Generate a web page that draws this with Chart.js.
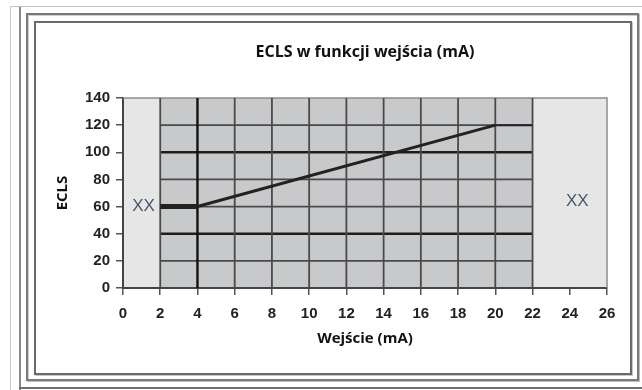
<!DOCTYPE html>
<html>
<head>
<meta charset="utf-8">
<script src="https://cdn.jsdelivr.net/npm/chart.js@4.4.1/dist/chart.umd.min.js"></script>
<style>
  html, body { margin: 0; padding: 0; background: #fff; }
  #wrap { position: relative; width: 642px; height: 390px; overflow: hidden; background: #fff; }
  .ln { position: absolute; }
  canvas { position: absolute; left: 0; top: 0; }
</style>
</head>
<body>
<div id="wrap">
  <!-- outer frame lines -->
  <div class="ln" style="left:10px; top:6px; width:640px; height:1px; background:#c4c4c4"></div>
  <div class="ln" style="left:10px; top:6px; width:1px; height:390px; background:#c4c4c4"></div>
  <div class="ln" style="left:19px; top:7px; width:2px; height:390px; background:#8a8a8a"></div>
  <div class="ln" style="left:19px; top:387px; width:630px; height:2px; background:#6e6e6e"></div>
  <!-- middle frame -->
  <div class="ln" style="left:26px; top:13px; width:609px; height:364px; border:2px solid #7a7a7a; box-shadow: inset 1px 1px 0 #d0d0d0, 1px 1px 0 #bdbdbd"></div>
  <!-- inner frame -->
  <div class="ln" style="left:34px; top:21px; width:594px; height:350px; border:2px solid #6a6a6a; box-shadow: 1px 1px 0 #c8c8c8"></div>
  <canvas id="c" width="642" height="390"></canvas>
</div>
<script>
// ---- data ----
const xTickValues = [0, 2, 4, 6, 8, 10, 12, 14, 16, 18, 20, 22, 24, 26];
const yTickValues = [0, 20, 40, 60, 80, 100, 120, 140];
const curveX = [2, 4, 20, 22];
const curveY = [60, 60, 120, 120];
const activeRange = [2, 22];
const markerTexts = ['XX', 'XX'];
const markerX = [1.1, 24.4];
const markerY = [60, 64];
const chartTitle = 'ECLS w funkcji wejścia (mA)';
const xTitle = 'Wejście (mA)';
const yTitle = 'ECLS';

const points = curveX.map((x, i) => ({ x: x, y: curveY[i] }));

const gridPlugin = {
  id: 'customGrid',
  beforeDraw(chart) {
    const { ctx, chartArea: a, scales: { x, y } } = chart;
    ctx.save();
    ctx.fillStyle = '#e6e6e6';
    ctx.fillRect(a.left, a.top, a.right - a.left, a.bottom - a.top);
    const x0 = x.getPixelForValue(activeRange[0]);
    const x1 = x.getPixelForValue(activeRange[1]);
    ctx.fillStyle = '#c8c9cb';
    ctx.fillRect(x0, a.top, x1 - x0, a.bottom - a.top);
    ctx.restore();
  },
  beforeDatasetsDraw(chart) {
    const { ctx, chartArea: a, scales: { x, y } } = chart;
    const x0 = x.getPixelForValue(activeRange[0]);
    const x1 = x.getPixelForValue(activeRange[1]);
    ctx.save();
    ctx.strokeStyle = '#8c8c8c';
    ctx.lineWidth = 1.5;
    ctx.beginPath();
    ctx.moveTo(a.left, a.top); ctx.lineTo(a.right, a.top); ctx.lineTo(a.right, a.bottom);
    ctx.stroke();
    yTickValues.forEach(v => {
      if (v === 0 || v === 140) return;
      const py = y.getPixelForValue(v);
      const strong = (v === 40 || v === 100);
      ctx.strokeStyle = strong ? '#1e1e1e' : '#4a4a4a';
      ctx.lineWidth = strong ? 2.4 : 1.8;
      ctx.beginPath(); ctx.moveTo(x0, py); ctx.lineTo(x1, py); ctx.stroke();
    });
    xTickValues.forEach(v => {
      if (v < activeRange[0] || v > activeRange[1]) return;
      const px = x.getPixelForValue(v);
      const strong = (v === 4);
      ctx.strokeStyle = strong ? '#111' : '#4a4a4a';
      ctx.lineWidth = strong ? 2.4 : 1.8;
      ctx.beginPath(); ctx.moveTo(px, a.top); ctx.lineTo(px, a.bottom); ctx.stroke();
    });
    ctx.restore();
  },
  afterDatasetsDraw(chart) {
    const { ctx, scales: { x, y } } = chart;
    ctx.save();
    ctx.font = '17px "Liberation Sans", Arial, sans-serif';
    ctx.fillStyle = '#4a576c';
    ctx.textAlign = 'center';
    ctx.textBaseline = 'middle';
    markerTexts.forEach((t, i) => {
      ctx.fillText(t, x.getPixelForValue(markerX[i]), y.getPixelForValue(markerY[i]));
    });
    ctx.restore();
  }
};

const tickFont = { family: '"Liberation Sans", Arial, sans-serif', size: 15, weight: 'bold' };
const titleFont = { family: '"Open Sans", "Noto Sans", sans-serif', size: 16, weight: 'bold' };
const axisTitleFont = { family: '"Open Sans", "Noto Sans", sans-serif', size: 15, weight: 'bold' };

new Chart(document.getElementById('c'), {
  type: 'line',
  data: {
    datasets: [{
      data: points,
      borderColor: '#222',
      borderWidth: 3,
      pointRadius: 0,
      tension: 0,
      borderCapStyle: 'butt',
      segment: {
        borderWidth: c => c.p0DataIndex === 0 ? 5 : (c.p0DataIndex === 2 ? 2 : 3)
      }
    }]
  },
  options: {
    responsive: false,
    animation: false,
    devicePixelRatio: 1,
    layout: { padding: { left: 40, right: 35, top: 42.4, bottom: 42 } },
    plugins: {
      legend: { display: false },
      tooltip: { enabled: false },
      title: {
        display: true,
        text: chartTitle,
        fullSize: false,
        color: '#111',
        font: titleFont,
        padding: { top: 0, bottom: 36.4 }
      }
    },
    scales: {
      x: {
        type: 'linear',
        min: 0, max: 26,
        afterBuildTicks: s => { s.ticks = xTickValues.map(v => ({ value: v })); },
        afterFit: s => { s.height = 60; },
        ticks: { font: tickFont, color: '#222', padding: 10, maxRotation: 0, autoSkip: false },
        grid: { drawOnChartArea: false, drawTicks: true, tickLength: 7, color: '#555', lineWidth: 1.5 },
        border: { display: true, color: '#444', width: 2 },
        title: { display: true, text: xTitle, font: axisTitleFont, color: '#111', padding: 0 }
      },
      y: {
        type: 'linear',
        min: 0, max: 140,
        afterBuildTicks: s => { s.ticks = yTickValues.map(v => ({ value: v })); },
        afterFit: s => { s.width = 83; },
        ticks: { font: tickFont, color: '#222', padding: 6, autoSkip: false },
        grid: { drawOnChartArea: false, drawTicks: true, tickLength: 7, color: '#555', lineWidth: 1.5 },
        border: { display: true, color: '#444', width: 2 },
        title: { display: true, text: yTitle, font: axisTitleFont, color: '#111', padding: { top: 14, bottom: 0 } }
      }
    }
  },
  plugins: [gridPlugin]
});
</script>
</body>
</html>
